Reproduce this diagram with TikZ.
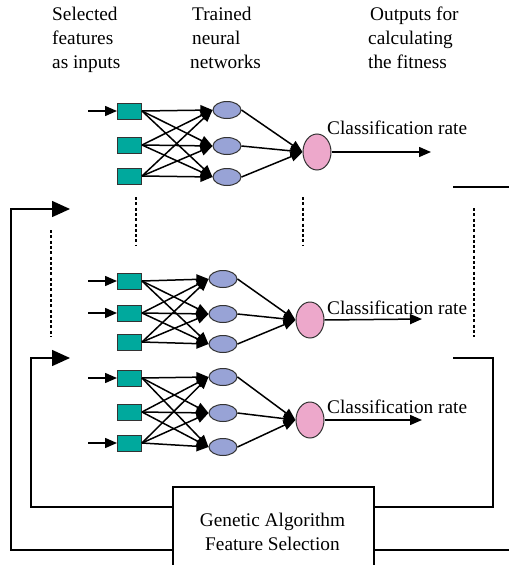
\documentclass[tikz,border=0pt]{standalone}
\usepackage{fontspec}
\setmainfont{Liberation Serif}
\usetikzlibrary{arrows.meta,shapes.geometric}
\definecolor{sqcol}{HTML}{00A99D}
\definecolor{hidcol}{HTML}{98A3D6}
\definecolor{outcol}{HTML}{EDA8CB}
\begin{document}
\begin{tikzpicture}[x=1pt,y=-1pt,
  inbox/.style={draw=black!80,line width=1pt,fill=sqcol,minimum width=24pt,minimum height=16pt,inner sep=0pt},
  hid/.style={draw=black!80,line width=1pt,fill=hidcol,ellipse,minimum width=28pt,minimum height=17pt,inner sep=0pt},
  outn/.style={draw=black!80,line width=1pt,fill=outcol,ellipse,minimum width=28pt,minimum height=36pt,inner sep=0pt},
  conn/.style={line width=1.5pt,-{Triangle[length=12pt,width=10pt]}},
  fb/.style={line width=1.5pt},
  fbarrow/.style={line width=1.5pt,-{Triangle[length=18pt,width=16pt]}},
  dots/.style={line width=2pt,dash pattern=on 3pt off 2.3pt},
  lbl/.style={font=\fontsize{19.3}{24}\selectfont,inner sep=0pt},
  hdr/.style={font=\fontsize{19.3}{24}\selectfont,inner sep=0pt,align=left,anchor=north west}]
\useasboundingbox (0,0) rectangle (509,565);
\fill[white] (0,0) rectangle (509,565);

% headers
\node[hdr] (h1) at (52,7) {Selected\\features\\as inputs};
\node[hdr] (h2) at (190,7) {\hspace*{2pt}Trained\\\hspace*{2pt}neural\\networks};
\node[hdr] (h3) at (368,7) {\hspace*{2pt}Outputs for\\calculating\\the fitness};

% ---------- block 1 ----------
\node[inbox] (a1) at (129.5,111) {};
\node[inbox] (a2) at (129.5,145) {};
\node[inbox] (a3) at (129.5,176) {};
\node[hid] (b1) at (227,110) {};
\node[hid] (b2) at (227,146) {};
\node[hid] (b3) at (227,177) {};
\node[outn] (c1) at (317,152) {};
\coordinate (i1) at (88,111);
\coordinate (o1) at (431,152);
\draw[conn] (i1) -- (a1);
\foreach \s in {a1,a2,a3}{\foreach \t in {b1,b2,b3}{\draw[conn] (\s.east) -- (\t.west);}}
\foreach \t in {b1,b2,b3}{\draw[conn] (\t.east) -- (c1.west);}
\draw[conn] (c1.east) -- (o1);
\node[lbl,anchor=west] (l1) at (327,128) {Classification rate};

% ---------- block 2 ----------
\node[inbox] (d1) at (129.5,281) {};
\node[inbox] (d2) at (129.5,313) {};
\node[inbox] (d3) at (129.5,342) {};
\node[hid] (e1) at (223,279) {};
\node[hid] (e2) at (223,314) {};
\node[hid] (e3) at (223,344) {};
\node[outn] (f1) at (310,320) {};
\coordinate (j1) at (88,281);
\coordinate (j2) at (88,313);
\coordinate (o2) at (422,319);
\draw[conn] (j1) -- (d1);
\draw[conn] (j2) -- (d2);
\foreach \s in {d1,d2,d3}{\foreach \t in {e1,e2,e3}{\draw[conn] (\s.east) -- (\t.west);}}
\foreach \t in {e1,e2,e3}{\draw[conn] (\t.east) -- (f1.west);}
\draw[conn] (f1.east) -- (o2);
\node[lbl,anchor=west] (l2) at (327,308) {Classification rate};

% ---------- block 3 ----------
\node[inbox] (g1) at (129.5,378) {};
\node[inbox] (g2) at (129.5,412) {};
\node[inbox] (g3) at (129.5,443) {};
\node[hid] (k1) at (223,377) {};
\node[hid] (k2) at (223,413) {};
\node[hid] (k3) at (223,447) {};
\node[outn] (m1) at (310,420) {};
\coordinate (q1) at (88,378);
\coordinate (q3) at (88,443);
\coordinate (o3) at (422,420);
\draw[conn] (q1) -- (g1);
\draw[conn] (q3) -- (g3);
\foreach \s in {g1,g2,g3}{\foreach \t in {k1,k2,k3}{\draw[conn] (\s.east) -- (\t.west);}}
\foreach \t in {k1,k2,k3}{\draw[conn] (\t.east) -- (m1.west);}
\draw[conn] (m1.east) -- (o3);
\node[lbl,anchor=west] (l3) at (327,407) {Classification rate};

% dotted lines
\draw[dots] (51,230) -- (51,337);
\draw[dots] (136,197) -- (136,246);
\draw[dots] (303,197) -- (303,246);
\draw[dots] (474,208) -- (474,337);

% GA box
\node[draw,line width=1.5pt,fill=white,minimum width=201pt,minimum height=80pt,inner sep=0pt,anchor=north west] (ga) at (172,486) {};
\node[lbl,align=center] (gat) at (272.5,532) {Genetic Algorithm\\Feature Selection};

% feedback loops
\coordinate (r1) at (453,187);
\coordinate (r1e) at (509,187);
\draw[fb] (r1) -- (r1e);
\coordinate (p1) at (70,209);
\draw[fbarrow] (ga.west |- 0,550) -- (11,550) -- (11,209) -- (p1);
\draw[fb] (ga.east |- 0,550) -- (509,550);
\coordinate (p2) at (70,358);
\draw[fbarrow] (ga.west |- 0,507) -- (31,507) -- (31,358) -- (p2);
\coordinate (r2) at (453,358);
\draw[fb] (ga.east |- 0,507) -- (493,507) -- (493,358) -- (r2);
\end{tikzpicture}
\end{document}
